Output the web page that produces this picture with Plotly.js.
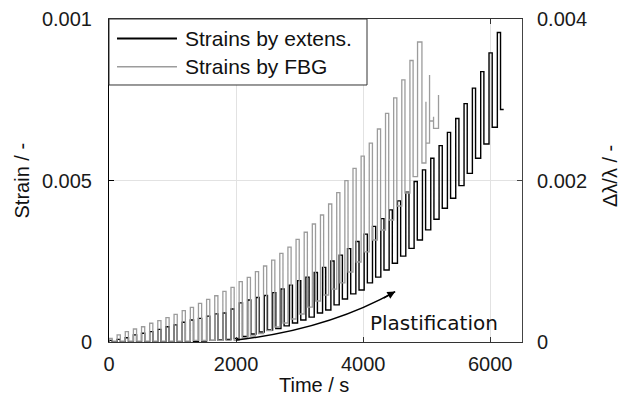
<!DOCTYPE html>
<html><head><meta charset="utf-8">
<script src="https://cdn.plot.ly/plotly-3.0.1.min.js"></script>
<style>html,body{margin:0;padding:0;background:#fff;}#chart{width:628px;height:407px;}</style>
</head><body><div id="chart"></div>
<script>
// ---- Extensometer strain (left axis) : one rectangle per load cycle ----
const extCycleStart = [0,128,256,384,512,640,768,896,1024,1152,1280,1408,1536,1664,1792,1920,2051,2182,2313,2444,2575,2706,2837,2968,3099,3230,3361,3492,3623,3754,3885,4016,4147,4278,4409,4540,4671,4802,4933,5064,5195,5326,5457,5588,5719,5850,5981,6112];
const extPeak = [0.00005,0.00008,0.00013,0.00022,0.00027,0.00032,0.00039,0.00047,0.00053,0.00061,0.00068,0.00073,0.00080,0.00087,0.00090,0.00102,0.00121,0.00130,0.00138,0.00144,0.00153,0.00164,0.00176,0.00190,0.00201,0.00215,0.00231,0.00251,0.00269,0.00289,0.00311,0.00334,0.00358,0.00382,0.00409,0.00437,0.00464,0.00497,0.00533,0.00569,0.00608,0.00649,0.00692,0.00738,0.00786,0.00837,0.00895,0.00958];
const extTrough = [0,0,0,0,0,0,0,0,0,0,0.00002,0.00003,0.00005,0.00006,0.00008,0.00011,0.00017,0.00025,0.00031,0.00037,0.00042,0.00050,0.00059,0.00068,0.00077,0.00090,0.00099,0.00115,0.00133,0.00149,0.00161,0.00183,0.00201,0.00223,0.00244,0.00266,0.00290,0.00316,0.00347,0.00380,0.00414,0.00445,0.00484,0.00522,0.00569,0.00613,0.00665,0.00720];
const extEndTime = 6212;

// ---- FBG relative wavelength shift (right axis) ----
const fbgCycleStart = [0,128,256,384,512,640,768,896,1024,1152,1280,1408,1536,1664,1792,1920,2048,2176,2304,2432,2560,2688,2816,2944,3072,3200,3328,3456,3584,3712,3840,3968,4096,4224,4352,4480,4608,4736];
const fbgPeak = [0.000046,0.000087,0.000128,0.000161,0.000189,0.000232,0.000264,0.000301,0.000343,0.000388,0.000430,0.000479,0.000529,0.000573,0.000628,0.000677,0.000747,0.000801,0.000871,0.000941,0.001015,0.001098,0.001176,0.001272,0.001359,0.001461,0.001573,0.001709,0.001849,0.001998,0.002151,0.002303,0.002464,0.002638,0.002832,0.003022,0.003245,0.003486];
const fbgTrough = [0.000012,0.000012,0.000012,0.000012,0.000012,0.000012,0.000012,0.000012,0.000012,0.000012,0.000019,0.000019,0.000019,0.000019,0.000019,0.000019,0.00005,0.000074,0.000105,0.000142,0.000186,0.000235,0.000285,0.000347,0.000433,0.000508,0.000582,0.000656,0.000731,0.000867,0.000991,0.001115,0.001263,0.001387,0.001511,0.001684,0.001845,0.002047];
// sensor failure at the end of the test
const fbgTailTime  = [4856,4856,4925,4925,4988,4988,4988,5045,5045,5045,5108,5108,5108,5186,5186];
const fbgTailValue = [0.002047,0.003715,0.003715,0.002217,0.002217,0.002976,0.002464,0.002464,0.003307,0.002737,0.002737,0.00279,0.002646,0.002646,0.003059];

const xTicks = [0,2000,4000,6000];
const yTicks = [0,0.005,0.01];
const yTickText = ['0','0.005','0.001'];
const y2Ticks = [0,0.002,0.004];
const y2TickText = ['0','0.002','0.004'];

function cycles(starts, peaks, troughs, hold){
  const x=[0], y=[0]; let prev=0;
  for(let i=0;i<starts.length;i++){
    x.push(starts[i],starts[i],starts[i]+hold,starts[i]+hold);
    y.push(prev,peaks[i],peaks[i],troughs[i]);
    prev=troughs[i];
  }
  return {x,y};
}
const ext = cycles(extCycleStart, extPeak, extTrough, 50);
ext.x.push(extEndTime); ext.y.push(extTrough[extTrough.length-1]);
const fbg = cycles(fbgCycleStart, fbgPeak, fbgTrough, 50);
const fbgX = fbg.x.concat(fbgTailTime), fbgY = fbg.y.concat(fbgTailValue);

const traces = [
  {x: ext.x, y: ext.y, mode:'lines', name:'Strains by extens.', line:{color:'#000', width:1.4}, yaxis:'y'},
  {x: fbgX, y: fbgY, mode:'lines', name:'Strains by FBG', line:{color:'#9c9c9c', width:1.3}, yaxis:'y2'}
];

const F = 'Liberation Sans, Arial, Helvetica, sans-serif';
const layout = {
  width:628, height:407,
  margin:{l:109, r:106, t:19, b:65},
  paper_bgcolor:'#fff', plot_bgcolor:'#fff',
  showlegend:false,
  font:{family:F, size:20, color:'#1a1a1a'},
  xaxis:{range:[0,6500], tickvals:xTicks, ticktext:xTicks.map(String), ticks:'inside', ticklen:5, tickcolor:'#333',
         showline:true, linecolor:'#333', linewidth:1, mirror:'ticks', showgrid:true, gridcolor:'#e2e2e2', zeroline:false,
         ticklabelstandoff:4},
  yaxis:{range:[0,0.01], tickvals:yTicks, ticktext:yTickText, ticks:'inside', ticklen:5, tickcolor:'#000',
         showline:true, linecolor:'#000', linewidth:1, showgrid:true, gridcolor:'#e2e2e2', zeroline:false,
         ticklabelstandoff:12},
  yaxis2:{range:[0,0.004], overlaying:'y', side:'right', tickvals:y2Ticks, ticktext:y2TickText, ticks:'inside', ticklen:5, tickcolor:'#444',
         showline:true, linecolor:'#444', linewidth:1, showgrid:false, zeroline:false, ticklabelstandoff:10},
  shapes:[
    {type:'path', xref:'x', yref:'y', path:'M 2000,0.00006 Q 3457,0.000398 4504,0.00156', line:{color:'#000', width:1.5}},
    {type:'rect', xref:'paper', yref:'paper', x0:0, x1:0.6247, y0:0.7957, y1:1, line:{color:'#333', width:1}, fillcolor:'#fff', layer:'above'},
    {type:'line', xref:'paper', yref:'paper', x0:0.0194, x1:0.1646, y0:0.9396, y1:0.9396, line:{color:'#000', width:1.8}, layer:'above'},
    {type:'line', xref:'paper', yref:'paper', x0:0.0194, x1:0.1646, y0:0.8523, y1:0.8523, line:{color:'#9c9c9c', width:1.5}, layer:'above'}
  ],
  annotations:[
    {xref:'x', yref:'y', x:4504, y:0.00156, ax:-13, ay:7.3, showarrow:true, arrowhead:2, arrowsize:1.2, arrowwidth:1.3, arrowcolor:'#000', text:''},
    {xref:'paper', yref:'paper', x:0.787, y:0.0588, xanchor:'center', yanchor:'middle', showarrow:false, text:'Plastification', font:{family:'DejaVu Sans, sans-serif', size:20, color:'#111'}},
    {xref:'paper', yref:'paper', x:0.1792, y:0.9396, xanchor:'left', yanchor:'middle', showarrow:false, text:'Strains by extens.', font:{family:F, size:21, color:'#111'}},
    {xref:'paper', yref:'paper', x:0.1792, y:0.8523, xanchor:'left', yanchor:'middle', showarrow:false, text:'Strains by FBG', font:{family:F, size:21, color:'#111'}},
    {xref:'paper', yref:'paper', x:0.496, y:-0.133, xanchor:'center', yanchor:'middle', showarrow:false, text:'Time / s', font:{family:F, size:20, color:'#111'}},
    {xref:'paper', yref:'paper', x:-0.2107, y:0.5, xanchor:'center', yanchor:'middle', textangle:-90, showarrow:false, text:'Strain / -', font:{family:F, size:20, color:'#111'}},
    {xref:'paper', yref:'paper', x:1.2131, y:0.514, xanchor:'center', yanchor:'middle', textangle:-90, showarrow:false, text:'Δλ/λ / -', font:{family:F, size:20, color:'#111'}}
  ]
};
Plotly.newPlot('chart', traces, layout, {displayModeBar:false, staticPlot:true});
</script>
</body></html>
